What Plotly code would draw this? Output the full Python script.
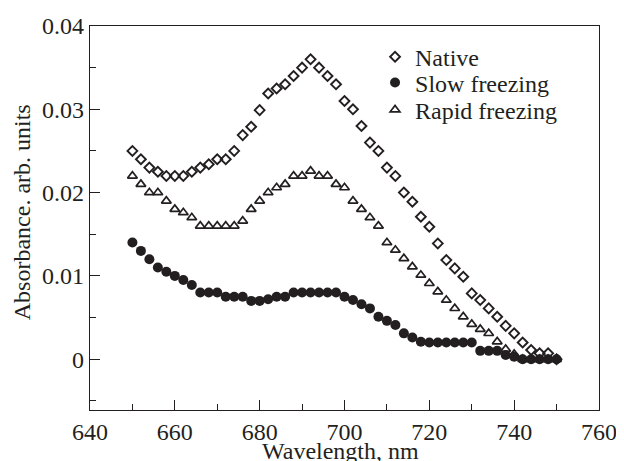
import plotly.graph_objects as go

wavelength = list(range(650, 752, 2))

native = [0.0250, 0.0240, 0.0230, 0.0225, 0.0220, 0.0220, 0.0220, 0.0225, 0.0230, 0.0234,
          0.0240, 0.0240, 0.0250, 0.0269, 0.0279, 0.0299, 0.0319, 0.0325, 0.0330, 0.0340,
          0.0350, 0.0360, 0.0350, 0.0340, 0.0330, 0.0310, 0.0300, 0.0280, 0.0260, 0.0250,
          0.0230, 0.0220, 0.0200, 0.0189, 0.0171, 0.0159, 0.0139, 0.0119, 0.0109, 0.0099,
          0.0079, 0.0071, 0.0061, 0.0051, 0.0040, 0.0031, 0.0020, 0.0011, 0.0007, 0.0007,
          0.0000]

slow = [0.0140, 0.0130, 0.0120, 0.0110, 0.0105, 0.0100, 0.0095, 0.0089, 0.0080, 0.0080,
        0.0080, 0.0075, 0.0075, 0.0075, 0.0070, 0.0070, 0.0072, 0.0075, 0.0075, 0.0080,
        0.0080, 0.0080, 0.0080, 0.0080, 0.0080, 0.0075, 0.0071, 0.0066, 0.0061, 0.0051,
        0.0046, 0.0041, 0.0031, 0.0026, 0.0021, 0.0020, 0.0020, 0.0020, 0.0020, 0.0020,
        0.0020, 0.0010, 0.0010, 0.0010, 0.0005, 0.0003, 0.0000, 0.0000, 0.0000, 0.0000,
        0.0000]

rapid = [0.0220, 0.0210, 0.0200, 0.0200, 0.0190, 0.0180, 0.0176, 0.0170, 0.0160, 0.0160,
         0.0160, 0.0160, 0.0160, 0.0166, 0.0180, 0.0190, 0.0200, 0.0206, 0.0210, 0.0220,
         0.0220, 0.0226, 0.0220, 0.0220, 0.0210, 0.0206, 0.0190, 0.0180, 0.0170, 0.0160,
         0.0140, 0.0131, 0.0121, 0.0111, 0.0101, 0.0091, 0.0081, 0.0071, 0.0061, 0.0051,
         0.0042, 0.0036, 0.0031, 0.0021, 0.0012, 0.0006, 0.0000, 0.0000, 0.0000, 0.0000,
         0.0000]

series_names = ["Native", "Slow freezing", "Rapid freezing"]
x_ticks = [640, 660, 680, 700, 720, 740, 760]
y_ticks = [0, 0.01, 0.02, 0.03, 0.04]
y_tick_text = ["0", "0.01", "0.02", "0.03", "0.04"]

ink = "#231f20"
font = "Liberation Serif, Times New Roman, serif"

fig = go.Figure()
fig.add_trace(go.Scatter(x=wavelength, y=slow, mode="markers", name=series_names[1], legend="legend2",
                         marker=dict(symbol="circle", size=10, color=ink, line=dict(width=0))))
fig.add_trace(go.Scatter(x=wavelength, y=rapid, mode="markers", name=series_names[2], legend="legend3",
                         marker=dict(symbol="triangle-up-open", size=8.5, color=ink,
                                     line=dict(width=1.7, color=ink))))
fig.add_trace(go.Scatter(x=wavelength, y=native, mode="markers", name=series_names[0], legend="legend",
                         marker=dict(symbol="diamond-open", size=7.6, color=ink,
                                     line=dict(width=1.9, color=ink))))

axis_common = dict(showline=True, linecolor=ink, linewidth=1.2, mirror=True,
                   ticks="inside", ticklen=10, tickwidth=1.3, tickcolor=ink,
                   showgrid=False, zeroline=False,
                   tickfont=dict(family=font, size=24, color=ink))

fig.update_xaxes(range=[640, 760], tickmode="array", tickvals=x_ticks,
                 minor=dict(ticks="inside", ticklen=6, tickwidth=1.3, tickcolor=ink, dtick=10, tick0=640),
                 **axis_common)
fig.update_yaxes(range=[-0.0061, 0.04], tickmode="array", tickvals=y_ticks, ticktext=y_tick_text,
                 minor=dict(ticks="inside", ticklen=6, tickwidth=1.3, tickcolor=ink, dtick=0.005, tick0=0),
                 **axis_common)

title_font = dict(family=font, size=24, color=ink)
fig.add_annotation(text="Wavelength, nm", xref="paper", yref="paper", x=0.493, y=-0.108,
                   xanchor="center", yanchor="middle", showarrow=False, font=title_font)
fig.add_annotation(text="Absorbance. arb. units", xref="paper", yref="paper", x=-0.1336, y=0.515,
                   xanchor="center", yanchor="middle", textangle=-90, showarrow=False, font=title_font)

leg_common = dict(x=0.56, xanchor="left", yanchor="middle", bgcolor="rgba(0,0,0,0)",
                  font=dict(family=font, size=24, color=ink), itemsizing="trace")

fig.update_layout(
    width=616, height=453,
    margin=dict(l=82, r=25, t=18, b=51, autoexpand=False),
    paper_bgcolor="white", plot_bgcolor="white",
    showlegend=True,
    legend=dict(y=0.919, **leg_common),
    legend2=dict(y=0.852, **leg_common),
    legend3=dict(y=0.781, **leg_common),
)

fig.write_html("out.html")
